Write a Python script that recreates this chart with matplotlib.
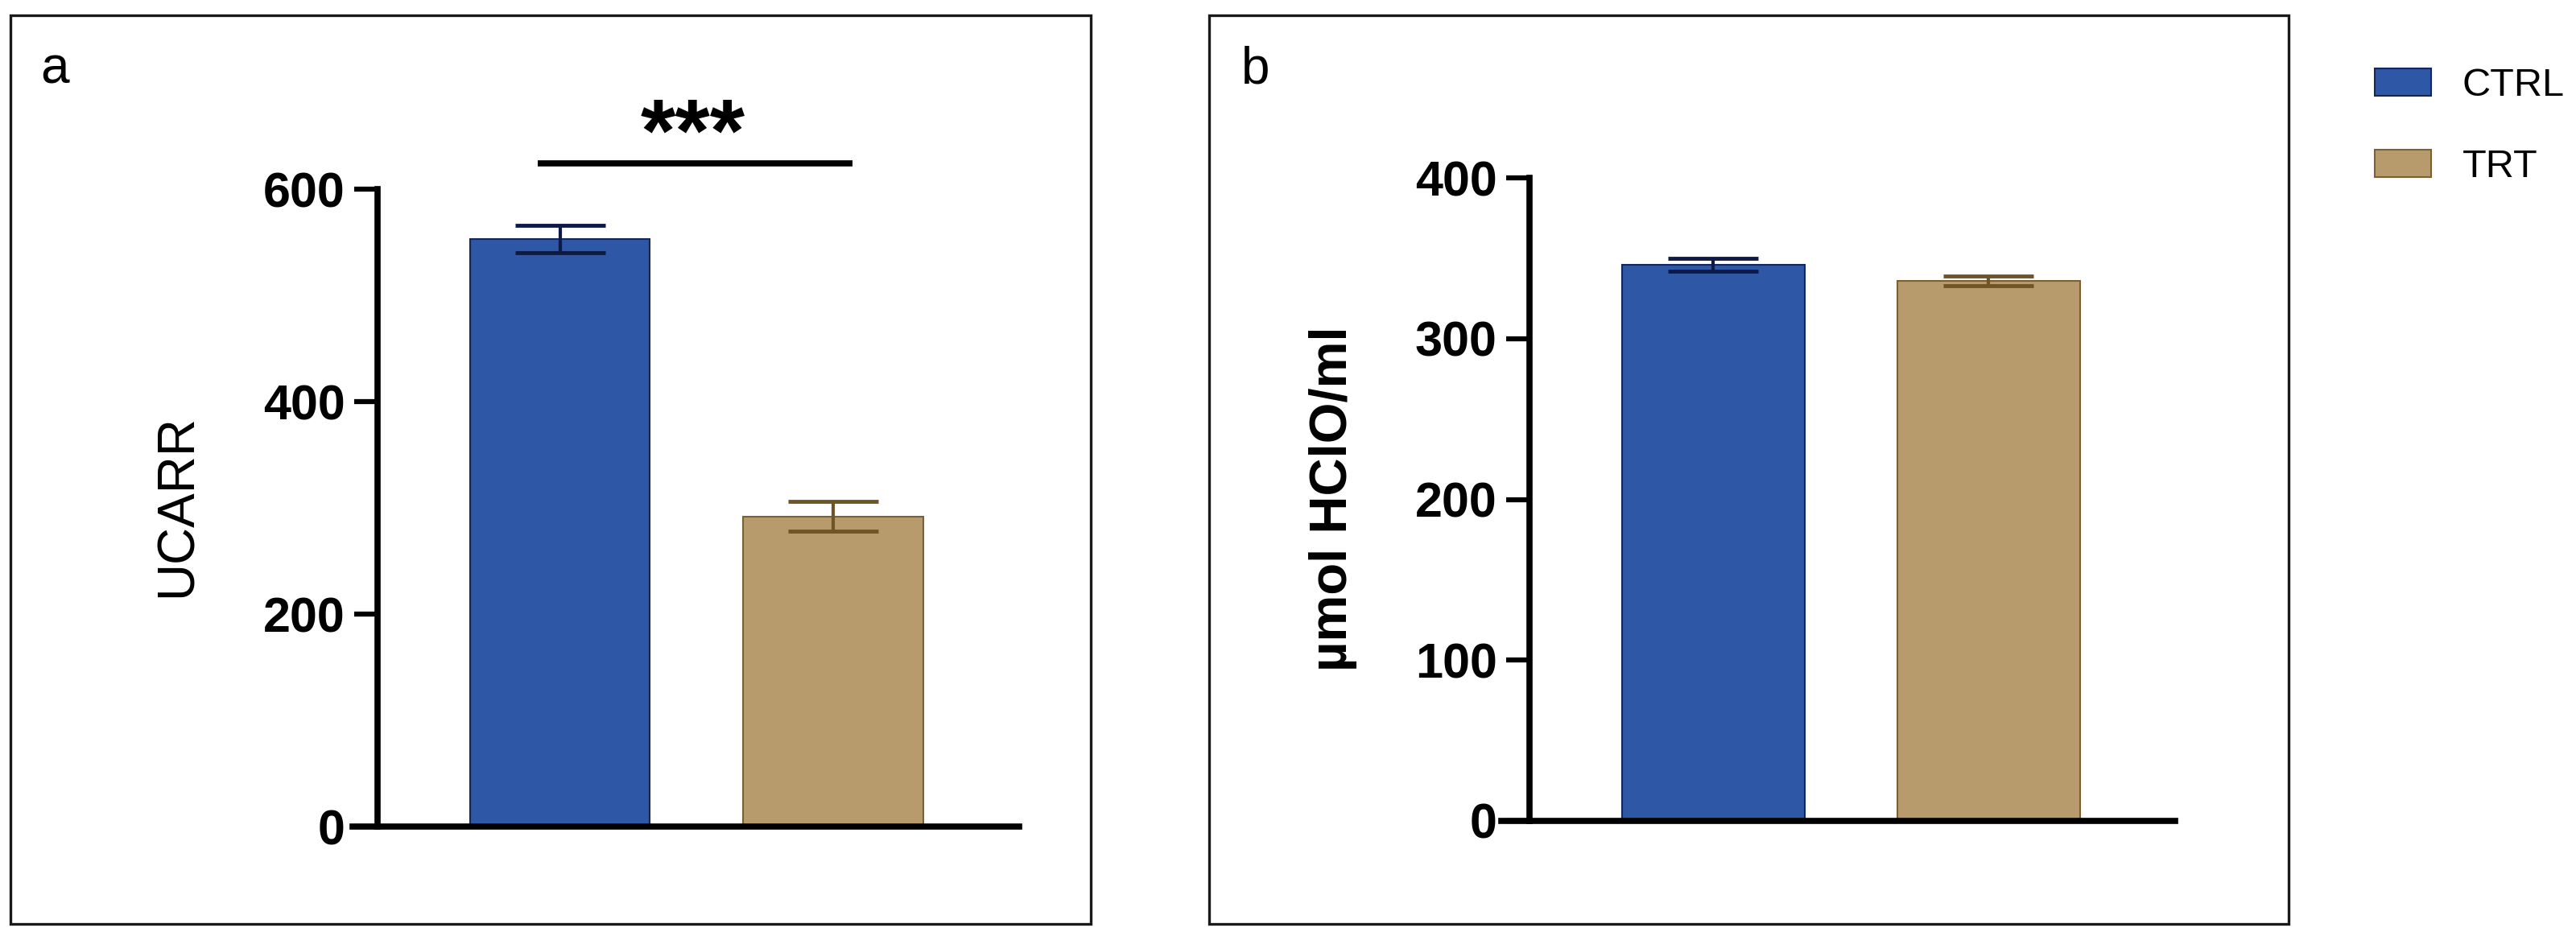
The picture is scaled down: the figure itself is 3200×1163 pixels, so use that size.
import matplotlib
matplotlib.use("Agg")
import matplotlib.pyplot as plt
from matplotlib.patches import Rectangle

plt.rcParams['font.family'] = ['Liberation Sans', 'DejaVu Sans']

groups = ['CTRL', 'TRT']
colors = ['#2E58A5', '#B89B6D']
edges = ['#15265C', '#7A6134']
err_colors = ['#0E1A45', '#6E5426']

# panel a
ucarr_mean = [553, 292]
ucarr_sem = [13, 14]
ucarr_ticks = [0, 200, 400, 600]

# panel b
hclo_mean = [346, 336]
hclo_sem = [4, 3]
hclo_ticks = [0, 100, 200, 300, 400]

W, H = 3200, 1163
fig = plt.figure(figsize=(W / 100, H / 100), dpi=100)


def px_box(x0, x1, ytop, ybot):
    return [x0 / W, 1 - ybot / H, (x1 - x0) / W, (ybot - ytop) / H]


def bar_panel(ax, means, sems, ticks, spine_frac, xlim, width):
    bars = []
    for i in range(len(groups)):
        b = ax.bar(i, means[i], width, yerr=sems[i], color=colors[i],
                   edgecolor=edges[i], linewidth=1.5, label=groups[i],
                   error_kw=dict(ecolor=err_colors[i], elinewidth=3,
                                 capsize=40, capthick=3.5))
        bars.append(b)
    ax.set_xlim(*xlim)
    ax.set_ylim(ticks[0], ticks[-1])
    ax.set_yticks(ticks)
    ax.set_xticks([])
    for s in ['top', 'right']:
        ax.spines[s].set_visible(False)
    ax.spines['left'].set_position(('axes', spine_frac))
    ax.spines['left'].set_linewidth(5.5)
    ax.spines['bottom'].set_linewidth(5.5)
    ax.spines['left'].set_capstyle('projecting')
    ax.tick_params(axis='y', length=21, width=4.5, pad=8, labelsize=44)
    for t in ax.get_yticklabels():
        t.set_fontweight('bold')
    ax.set_facecolor('none')
    return bars


# panel frames
for x0, x1 in [(13, 1355), (1502, 2843)]:
    fig.add_artist(Rectangle((x0 / W, 1 - 1148 / H), (x1 - x0) / W, (1148 - 19) / H,
                             transform=fig.transFigure, fill=False,
                             edgecolor='#1a1a1a', linewidth=2.4))

ax1 = fig.add_axes(px_box(438, 1266, 235, 1027))
bar_panel(ax1, ucarr_mean, ucarr_sem, ucarr_ticks,
          (469 - 438) / (1266 - 438), (-0.7585, 1.680), 0.658)
fig.text(221 / W, 1 - 628 / H, 'UCARR', rotation=90, fontsize=46,
         ha='center', va='center')

# significance bar
ax1.plot([-0.08, 1.07], [624, 624], color='black', linewidth=5.5,
         solid_capstyle='butt', clip_on=False)
ax1.text(0.487, 648, '***', ha='center', va='center', fontsize=80,
         fontweight='bold', clip_on=False)

ax2 = fig.add_axes(px_box(1865, 2702, 221, 1020))
bars = bar_panel(ax2, hclo_mean, hclo_sem, hclo_ticks,
                 (1900 - 1865) / (2702 - 1865), (-0.770, 1.677), 0.664)
fig.text(1656 / W, 1 - 620 / H, 'µmol HClO/ml', rotation=90, fontsize=47,
         fontweight='bold', ha='center', va='center')

fig.text(50 / W, 1 - 104 / H, 'a', fontsize=46, ha='left', va='baseline')
fig.text(1542 / W, 1 - 103 / H, 'b', fontsize=46, ha='left', va='baseline')

fig.legend(handles=bars, labels=groups, loc='upper left',
           bbox_to_anchor=(2950 / W, 1 - 84 / H), frameon=False,
           fontsize=35, handlelength=1.45, handleheight=0.68,
           handletextpad=0.78, labelspacing=1.15, borderpad=0,
           borderaxespad=0)

fig.savefig('out.png', dpi=100, facecolor='white')
